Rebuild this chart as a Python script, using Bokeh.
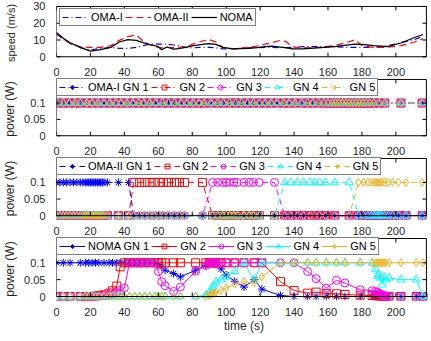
import math
from bokeh.plotting import figure
from bokeh.layouts import column
from bokeh.models import (Range1d, FixedTicker, Legend, LegendItem, CustomJSTickFormatter,
                          BoxAnnotation)
from bokeh.embed import file_html
from bokeh.resources import INLINE

FONT = "Liberation Sans"

# ---------------- data ----------------
# speed panel
t_speed = [0, 4, 8, 14, 20, 26, 32, 37, 42, 47, 51, 55, 60, 62, 65, 69, 72, 76, 80, 86,
           90, 94, 98, 104, 113, 118, 123, 127, 132, 135, 139, 145, 154, 164, 172, 176, 180, 187, 195, 203,
           211, 216]
speed_noma = [14.5, 11, 8.4, 5.6, 3.4, 4.3, 5.6, 8.8, 10.2, 9.8, 8.4, 7.3, 6, 4.2, 5.8, 4.6, 4.8, 5.6, 6.5, 7.4,
              7.8, 7.4, 5.6, 4.7, 5, 5.5, 6, 6.4, 5.8, 5.4, 4.7, 4.7, 5.3, 6, 7.1, 7.5, 7.4, 6.6, 6, 8.2,
              11.5, 13.3]
speed_oma2 = [14, 10.5, 8, 6, 5.6, 5.6, 6.6, 9.8, 12, 13, 9.4, 7, 5.6, 5.3, 5.6, 5.4, 5.6, 6, 7.4, 9.4,
              10.2, 8.8, 5.6, 4.7, 5.6, 6.4, 7.5, 8.4, 9.8, 9.2, 6, 5.3, 5.6, 6.6, 8.8, 10.2, 6.6, 5.6, 5.6, 6.6,
              8.8, 10.8]
speed_oma1 = [13.5, 10.5, 8, 5.5, 4.1, 5, 5.6, 5, 5, 5.6, 6.6, 7.5, 7.5, 7.5, 7.5, 7, 6.6, 5.6, 5.3, 5.6,
              5.6, 5.3, 4.7, 4.7, 5.3, 5.4, 5.6, 5.6, 5.4, 5.3, 5.6, 6, 6, 6, 5.6, 5.6, 5.6, 5.6, 6.6, 8.4,
              10.3, 12.2]

# OMA-I: every GN transmits with the same power at every sample
t_oma1 = [0.5, 4, 7.5, 11, 14, 18, 21, 24.5, 28, 31.5, 35, 38, 41.5, 45, 48.5, 51.5, 55, 58.5, 62.5, 66,
          69.5, 73.5, 77, 80.5, 84, 87, 91, 95, 98.5, 102, 105.5, 109, 112.5, 116, 119.5, 123, 126.5, 130,
          134, 137, 140.5, 144.5, 148, 151, 154.5, 157.5, 160, 162.5, 164.5, 166.5, 168.5, 170.5, 172.5,
          174.5, 176.5, 178.5, 180.5, 182.5, 184.5, 187, 190, 193.5, 203, 215.5]
oma1_level = 0.1

# OMA-II: one GN served at a time (index of the active GN per sample)
t_oma2 = [0, 2, 4, 6, 8, 10, 12, 14, 15.5, 17, 18, 19, 20, 21, 22, 23, 24, 25, 26, 27,
          28, 30, 36.5, 42.5, 45.5, 49, 52, 55, 57.5, 60.5, 63, 66, 69.5, 72.5, 75.5, 86,
          92, 95, 98, 100, 102, 104.5, 106.5, 110.5, 113.5, 116, 119.5, 128.5,
          134.5, 138, 142, 145.5, 149.5, 152, 155, 158.5, 164, 172.5,
          178, 181, 183.5, 185.5, 187, 188, 189, 190, 191, 192, 193.5, 195.5, 198, 201.5, 206, 215.5]
oma2_active = [1, 1, 1, 1, 1, 1, 1, 1, 1, 1, 1, 1, 1, 1, 1, 1, 1, 1, 1, 1,
               1, 1, 1, 1, 2, 2, 2, 2, 2, 2, 2, 2, 2, 2, 2, 2,
               3, 3, 3, 3, 3, 3, 3, 3, 3, 3, 3, 3,
               4, 4, 4, 4, 4, 4, 4, 4, 4, 4,
               5, 5, 5, 5, 5, 5, 5, 5, 5, 5, 5, 5, 5, 5, 5, 5]
oma2_level = 0.1

# NOMA
t_noma = [0, 4, 8, 14, 17, 19, 21, 23, 25, 28, 31, 33, 35.5, 37.5, 40, 43, 46, 49, 52, 55,
          58, 60, 62, 64, 69, 73, 82, 88, 90, 91, 92, 93, 94, 97, 100, 105, 110.5, 116.5, 121, 132,
          140, 148, 153, 159, 165, 170, 179, 186, 188, 189, 190, 191, 192, 193, 194, 196, 203, 212, 216]
noma_gn1 = [0.1, 0.1, 0.1, 0.1, 0.1, 0.1, 0.1, 0.1, 0.1, 0.1, 0.1, 0.1, 0.1, 0.1, 0.1, 0.1, 0.1, 0.1, 0.1, 0.1,
            0.1, 0.095, 0.088, 0.078, 0.068, 0.058, 0.078, 0.092, 0.1, 0.1, 0.1, 0.098, 0.095, 0.082, 0.064,
            0.045, 0.028, 0.05, 0.022, 0.003,
            0, 0, 0, 0, 0, 0, 0, 0, 0, 0, 0, 0, 0, 0, 0, 0, 0, 0, 0]
noma_gn2 = [0, 0, 0, 0, 0, 0, 0, 0.001, 0.003, 0.005, 0.01, 0.017, 0.031, 0.088, 0.1, 0.1, 0.1, 0.1, 0.1, 0.1,
            0.1, 0.1, 0.1, 0.1, 0.1, 0.1, 0.1, 0.1, 0.1, 0.1, 0.1, 0.1, 0.1, 0.1, 0.1, 0.1, 0.1, 0.1, 0.1, 0.044,
            0.018, 0.01, 0.013, 0.009, 0.008, 0.006, 0.004, 0.003, 0.002, 0.002, 0.002, 0.001, 0.001, 0.001,
            0, 0, 0, 0, 0]
noma_gn3 = [0, 0, 0, 0, 0, 0, 0, 0, 0.001, 0.002, 0.004, 0.006, 0.012, 0.018, 0.025, 0.1, 0.1, 0.1, 0.1, 0.1,
            0.1, 0.074, 0.044, 0.032, 0.015, 0.028, 0.075, 0.092, 0.1, 0.1, 0.1, 0.1, 0.1, 0.1, 0.1, 0.1, 0.1,
            0.1, 0.1, 0.1,
            0.1, 0.074, 0.053, 0.025, 0.048, 0.04, 0.02, 0.017, 0.015, 0.013, 0.01, 0.007, 0.004, 0.002, 0.001,
            0, 0, 0, 0]
noma_gn4 = [0, 0, 0, 0, 0, 0, 0, 0, 0, 0, 0, 0, 0, 0, 0, 0, 0, 0, 0, 0,
            0, 0, 0, 0, 0, 0, 0, 0.004, 0.012, 0.02, 0.028, 0.035, 0.044, 0.05, 0.058, 0.075, 0.1, 0.047, 0.1, 0.1,
            0.1, 0.1, 0.1, 0.1, 0.1, 0.1, 0.1, 0.1, 0.08, 0.06, 0.066, 0.055, 0.035, 0.058, 0.05, 0.055,
            0.05, 0.05, 0]
noma_gn5 = [0, 0, 0, 0, 0, 0, 0, 0, 0, 0, 0, 0, 0, 0, 0, 0, 0, 0, 0, 0,
            0, 0, 0, 0, 0, 0, 0, 0, 0.003, 0.005, 0.008, 0.01, 0.013, 0.018, 0.025, 0.036, 0.044, 0.04, 0.058, 0.1,
            0.1, 0.1, 0.1, 0.1, 0.1, 0.1, 0.1, 0.1, 0.1, 0.1, 0.1, 0.1, 0.1, 0.1, 0.1, 0.1, 0.1, 0.1, 0.1]

gn_labels = ["GN 1", "GN 2", "GN 3", "GN 4", "GN 5"]
gn_colors = ["#0000FF", "#FF0000", "#FF00FF", "#00FFFF", "#EDB120"]
gn_markers = ["asterisk", "square", "circle", "triangle", "diamond"]
x_ticks = [0, 20, 40, 60, 80, 100, 120, 140, 160, 180, 200]
speed_ticks = [0, 10, 20, 30]
power_ticks = [0, 0.05, 0.1]
X_MAX = 218
P_MAX = 0.172

fmt = CustomJSTickFormatter(code="return String(Math.round(tick*1000)/1000);")

LEFT = 52          # frame left edge = box left edge
X_PAD = 3          # x-units of padding on the right so edge markers are not clipped
TXT = "#262626"


def base_fig(height, top, box_h, bottom, ymax, yticks, ylabel, ylabel_standoff, ylabel_size,
             xlabel=None):
    # frame = 1 px above box, 4 px below box (markers at 0 stay whole)
    units_per_px = ymax / box_h
    y0 = -4 * units_per_px
    y1 = ymax + 1 * units_per_px
    p = figure(width=431, height=height, x_range=Range1d(0, X_MAX + X_PAD), y_range=Range1d(y0, y1),
               output_backend="svg", toolbar_location=None,
               min_border_left=LEFT, min_border_right=0, min_border_top=top, min_border_bottom=bottom)
    p.grid.visible = False
    p.outline_line_color = None
    p.background_fill_color = "white"
    p.border_fill_color = "white"
    for ax in (p.xaxis[0], p.yaxis[0]):
        ax.major_tick_line_color = None
        ax.minor_tick_line_color = None
        ax.axis_line_color = None
        ax.major_label_text_font = FONT
        ax.major_label_text_font_size = "11px"
        ax.major_label_text_color = TXT
        ax.axis_label_text_font = FONT
        ax.axis_label_text_font_size = "12px"
        ax.axis_label_text_font_style = "normal"
        ax.axis_label_text_color = TXT
        ax.formatter = fmt
    p.xaxis[0].ticker = FixedTicker(ticks=x_ticks)
    p.xaxis[0].major_label_standoff = 1
    p.yaxis[0].ticker = FixedTicker(ticks=yticks)
    p.yaxis[0].major_label_standoff = 5
    p.yaxis[0].axis_label = ylabel
    p.yaxis[0].axis_label_standoff = ylabel_standoff
    p.yaxis[0].axis_label_text_font_size = ylabel_size
    if xlabel:
        p.xaxis[0].axis_label = xlabel
        p.xaxis[0].axis_label_standoff = 0
    return p


def add_box(p, ymax, yticks):
    # axes box (MATLAB style, box on) with inward ticks on all four sides
    p.add_layout(BoxAnnotation(left=0, right=X_MAX, bottom=0, top=ymax, fill_color=None,
                               line_color="black", line_width=1, line_alpha=1))
    n = len(x_ticks)
    m = len(yticks)
    kw = dict(length=4, length_units="screen", line_color="black", line_width=1)
    p.ray(x=x_ticks, y=[0] * n, angle=math.pi / 2, **kw)
    p.ray(x=x_ticks, y=[ymax] * n, angle=-math.pi / 2, **kw)
    p.ray(x=[0] * m, y=yticks, angle=0, **kw)
    p.ray(x=[X_MAX] * m, y=yticks, angle=math.pi, **kw)


def make_legend(items, margin):
    lg = Legend(items=items, location="top_left", orientation="horizontal",
                label_text_font=FONT, label_text_font_size="11px", label_text_color="black",
                glyph_width=26, glyph_height=12, label_height=12, label_standoff=3,
                spacing=2, padding=2, margin=margin,
                border_line_color="black", border_line_width=1,
                background_fill_color="white", background_fill_alpha=1)
    return lg


# ---------------- panel 1: speed ----------------
H1 = 54
p1 = base_fig(78, 5, H1, 14, 30, speed_ticks, "speed (m/s)", 13, "11px")
r_o1 = p1.line(t_speed, speed_oma1, line_color="#0000FF", line_width=1.2, line_dash="6 3 1 3")
r_o2 = p1.line(t_speed, speed_oma2, line_color="#FF0000", line_width=1.2, line_dash="7 4")
r_no = p1.line(t_speed, speed_noma, line_color="black", line_width=1.2)
add_box(p1, 30, speed_ticks)
p1.add_layout(make_legend([LegendItem(label="OMA-I", renderers=[r_o1]),
                           LegendItem(label="OMA-II", renderers=[r_o2]),
                           LegendItem(label="NOMA", renderers=[r_no])], 3))


def power_panel(height, box_h, bottom, t, series, prefix, dash, xlabel=None):
    p = base_fig(height, 0, box_h, bottom, P_MAX, power_ticks, "power (W)", 4, "12px", xlabel)
    items = []
    for k in range(5):
        kw = dict(line_color=gn_colors[k], line_width=1)
        if dash:
            kw["line_dash"] = dash
        lr = p.line(t, series[k], **kw)
        sr = p.scatter(t, series[k], marker=gn_markers[k], size=8, line_color=gn_colors[k],
                       fill_color=None, line_width=1)
        lab = (prefix + " " + gn_labels[k]) if k == 0 else gn_labels[k]
        items.append(LegendItem(label=lab, renderers=[lr, sr]))
    add_box(p, P_MAX, power_ticks)
    p.add_layout(make_legend(items, 0))
    return p


oma1_series = [[oma1_level for _ in t_oma1] for k in range(5)]
oma2_series = [[oma2_level if a == k + 1 else 0 for a in oma2_active] for k in range(5)]
noma_series = [noma_gn1, noma_gn2, noma_gn3, noma_gn4, noma_gn5]

p2 = power_panel(79, 60, 14, t_oma1, oma1_series, "OMA-I", "6 3 1 3")
p3 = power_panel(80, 60, 15, t_oma2, oma2_series, "OMA-II", "6 4")
p4 = power_panel(104, 58, 41, t_noma, noma_series, "NOMA", None, xlabel="time (s)")

layout = column(p1, p2, p3, p4, spacing=0)
open("out.html", "w").write(file_html(layout, INLINE))
